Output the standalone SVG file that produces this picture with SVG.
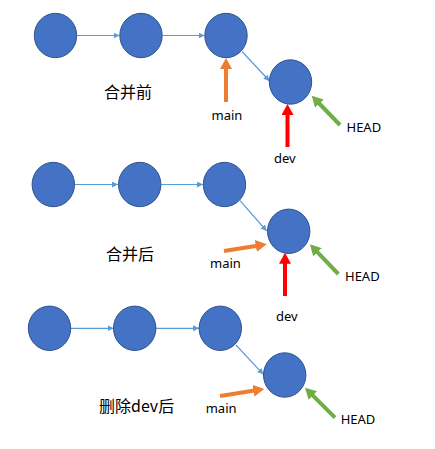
<svg xmlns="http://www.w3.org/2000/svg" width="435" height="449" viewBox="0 0 435 449">
<style>
.node{fill:#4472C4;stroke:#2F528F;stroke-width:1}
.conn{stroke:#5B9BD5;stroke-width:1.2;fill:none;marker-end:url(#thin)}
.ptr{stroke-width:4;fill:none}
.o{stroke:#ED7D31;marker-end:url(#ho)}
.r{stroke:#FF0000;marker-end:url(#hr)}
.g{stroke:#70AD47;marker-end:url(#hg)}
.lbl{font-family:"Noto Sans","Liberation Sans",sans-serif;font-size:13px;fill:#000}
.cap{font-family:"Noto Sans CJK SC","Noto Sans",sans-serif;font-size:16px;fill:#000}
</style>
<defs>
<marker id="thin" markerUnits="userSpaceOnUse" viewBox="0 0 6 6" markerWidth="6" markerHeight="6" refX="6" refY="3" orient="auto"><path d="M0,0L6,3L0,6z" fill="#5B9BD5"/></marker>
<marker id="ho" markerUnits="userSpaceOnUse" viewBox="0 0 11 12" markerWidth="11" markerHeight="12" refX="3" refY="6" orient="auto"><path d="M0,0L11,6L0,12z" fill="#ED7D31"/></marker>
<marker id="hr" markerUnits="userSpaceOnUse" viewBox="0 0 11 12" markerWidth="11" markerHeight="12" refX="3" refY="6" orient="auto"><path d="M0,0L11,6L0,12z" fill="#FF0000"/></marker>
<marker id="hg" markerUnits="userSpaceOnUse" viewBox="0 0 11 12" markerWidth="11" markerHeight="12" refX="3" refY="6" orient="auto"><path d="M0,0L11,6L0,12z" fill="#70AD47"/></marker>
</defs>

<g id="connectors">
<line class="conn" x1="77" y1="35.5" x2="119.5" y2="35.5"/>
<line class="conn" x1="162.5" y1="35.5" x2="204.5" y2="35.5"/>
<line class="conn" x1="242" y1="51.5" x2="269.5" y2="81"/>
<line class="conn" x1="74.5" y1="184.5" x2="118" y2="184.5"/>
<line class="conn" x1="161" y1="184.5" x2="203" y2="184.5"/>
<line class="conn" x1="240" y1="200.7" x2="266.7" y2="231"/>
<line class="conn" x1="70.7" y1="328.3" x2="113.5" y2="328.3"/>
<line class="conn" x1="156" y1="328.3" x2="199" y2="328.3"/>
<line class="conn" x1="236" y1="345" x2="263.3" y2="374.3"/>

<line class="ptr o" x1="226" y1="102" x2="226" y2="66"/>
<line class="ptr r" x1="287.5" y1="147" x2="287.5" y2="112"/>
<line class="ptr g" x1="340" y1="125" x2="317.3" y2="101.5"/>

<line class="ptr o" x1="224" y1="251" x2="258.8" y2="245.5"/>
<line class="ptr r" x1="285" y1="296" x2="285" y2="260.7"/>
<line class="ptr g" x1="338.3" y1="274" x2="315.5" y2="250.1"/>

<line class="ptr o" x1="220" y1="396" x2="256.4" y2="390.2"/>
<line class="ptr g" x1="335" y1="417.7" x2="310.7" y2="393.4"/>
</g>

<g id="s1n1"><ellipse class="node" cx="55.5" cy="35.5" rx="21.2" ry="22.2"/></g>
<g id="s1n2"><ellipse class="node" cx="141" cy="35.5" rx="21.2" ry="22.2"/></g>
<g id="s1n3"><ellipse class="node" cx="226" cy="35.5" rx="21.2" ry="22.2"/></g>
<g id="s1n4"><ellipse class="node" cx="290.5" cy="82" rx="21.2" ry="22.2"/></g>

<g id="s2n1"><ellipse class="node" cx="53.3" cy="184.5" rx="21.2" ry="22.2"/></g>
<g id="s2n2"><ellipse class="node" cx="139.7" cy="184.5" rx="21.2" ry="22.2"/></g>
<g id="s2n3"><ellipse class="node" cx="224.5" cy="184.5" rx="21.2" ry="22.2"/></g>
<g id="s2n4"><ellipse class="node" cx="288.7" cy="231.3" rx="21.2" ry="22.2"/></g>

<g id="s3n1"><ellipse class="node" cx="49.5" cy="328.3" rx="21.2" ry="22.2"/></g>
<g id="s3n2"><ellipse class="node" cx="134.7" cy="328.3" rx="21.2" ry="22.2"/></g>
<g id="s3n3"><ellipse class="node" cx="220.3" cy="328.3" rx="21.2" ry="22.2"/></g>
<g id="s3n4"><ellipse class="node" cx="284.7" cy="375" rx="21.2" ry="22.2"/></g>

<g id="labels">
<text class="cap" x="104" y="97.5">合并前</text>
<text class="lbl" x="211.5" y="120">main</text>
<text class="lbl" x="274" y="162.5">dev</text>
<text class="lbl" x="346.5" y="131.5">HEAD</text>

<text class="cap" x="106" y="260">合并后</text>
<text class="lbl" x="210" y="268.3">main</text>
<text class="lbl" x="345" y="280.7">HEAD</text>
<text class="lbl" x="276" y="320.7">dev</text>

<text class="cap" x="99" y="411.5">删除dev后</text>
<text class="lbl" x="205.7" y="412.7">main</text>
<text class="lbl" x="340.7" y="424.3">HEAD</text>
</g>
</svg>
